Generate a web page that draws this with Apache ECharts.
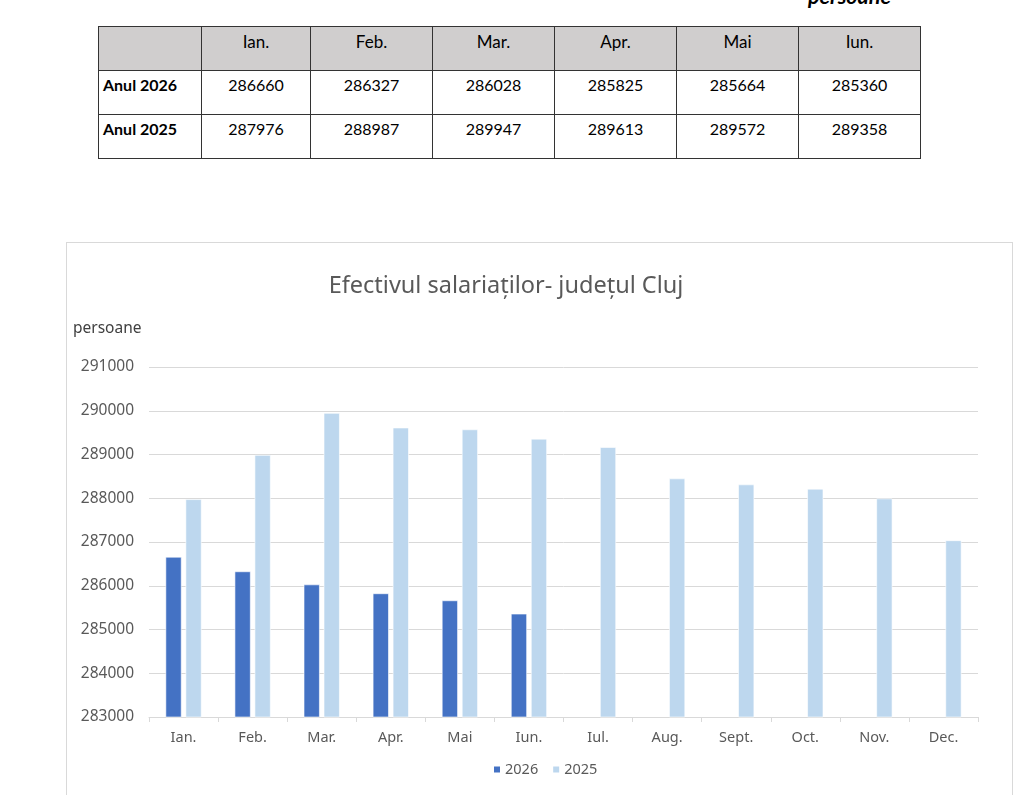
<!DOCTYPE html>
<html>
<head>
<meta charset="utf-8">
<script src="https://cdn.jsdelivr.net/npm/echarts@6/dist/echarts.min.js"></script>
<style>
html,body{margin:0;padding:0;background:#fff;overflow:hidden;width:1024px;height:795px;}
#unit{position:absolute;left:808px;top:-17px;font-family:Lato,sans-serif;font-style:italic;font-weight:bold;font-size:21.5px;color:#000;}
#tbl{position:absolute;left:98px;top:26px;border-collapse:collapse;font-family:Lato,sans-serif;font-size:16px;color:#000;}
#tbl td{border:1.3px solid #333;height:44px;padding:0;text-align:center;vertical-align:top;padding-top:4px;box-sizing:border-box;font-weight:normal;}
#tbl tr.h td{background:#D0CECE;padding-top:4px;font-size:17px;}
#tbl td.lab{font-weight:bold;text-align:left;padding-left:4px;}
#chart{position:absolute;left:66px;top:242px;width:947px;height:580px;border:1px solid #D9D9D9;box-sizing:border-box;}
</style>
</head>
<body>
<div id="unit">persoane</div>
<table id="tbl"></table>
<div id="chart"></div>
<script>
const months = ['Ian.','Feb.','Mar.','Apr.','Mai','Iun.','Iul.','Aug.','Sept.','Oct.','Nov.','Dec.'];
const tableMonths = ['Ian.','Feb.','Mar.','Apr.','Mai','Iun.'];
const series2026 = [286660, 286327, 286028, 285825, 285664, 285360, null, null, null, null, null, null];
const series2025 = [287976, 288987, 289947, 289613, 289572, 289358, 289167, 288451, 288314, 288215, 287993, 287037];
const rowLabels = ['Anul 2026','Anul 2025'];
const colWidths = [103,109,122,122,122,122,122];

// table
const tbl = document.getElementById('tbl');
let html = '<tr class="h"><td style="width:'+colWidths[0]+'px"></td>';
tableMonths.forEach((m,i)=>{ html += '<td style="width:'+colWidths[i+1]+'px">'+m+'</td>'; });
html += '</tr>';
[series2026, series2025].forEach((s,r)=>{
  html += '<tr><td class="lab">'+rowLabels[r]+'</td>';
  tableMonths.forEach((m,i)=>{ html += '<td>'+s[i]+'</td>'; });
  html += '</tr>';
});
tbl.innerHTML = html;

const chart = echarts.init(document.getElementById('chart'));
const txt = '#595959';
const F = 'Noto Sans';
chart.setOption({
  animation:false,
  textStyle:{fontFamily:F},
  title:{
    text:'Efectivul salariaților- județul Cluj',
    left:434, top:26, textAlign:'center',
    textStyle:{fontFamily:F,fontSize:23.5,fontWeight:'normal',color:txt}
  },
  legend:{
    data:['2026','2025'], left:420, top:514,
    itemWidth:8, itemHeight:8, itemGap:13,
    icon:'rect',
    textStyle:{fontFamily:F,fontSize:14.5,color:txt,padding:[0,0,0,-1]}
  },
  grid:{left:82, right:34, top:124, height:350, containLabel:false},
  xAxis:{
    type:'category', data:months,
    axisLine:{lineStyle:{color:'#D9D9D9',width:1}},
    axisTick:{show:true,length:5,lineStyle:{color:'#D9D9D9'}},
    axisLabel:{color:txt,fontSize:14.5,margin:13,fontFamily:F}
  },
  yAxis:{
    type:'value', min:283000, max:291000, interval:1000,
    name:'persoane', nameLocation:'end', nameGap:30,
    nameTextStyle:{color:'#404040',fontSize:15.5,fontFamily:F,align:'left',padding:[0,0,0,-76]},
    axisLine:{show:false}, axisTick:{show:false},
    axisLabel:{color:txt,fontSize:15.5,margin:15,fontFamily:F,formatter:v=>String(v)},
    splitLine:{lineStyle:{color:'#D9D9D9',width:1}}
  },
  series:[
    {name:'2026',type:'bar',data:series2026,barWidth:16,barGap:'25%',
     itemStyle:{color:'#4472C4',borderColor:'#fff',borderWidth:0.6}},
    {name:'2025',type:'bar',data:series2025,barWidth:16,
     itemStyle:{color:'#BDD7EE',borderColor:'#fff',borderWidth:0.6}}
  ]
});
</script>
</body>
</html>
